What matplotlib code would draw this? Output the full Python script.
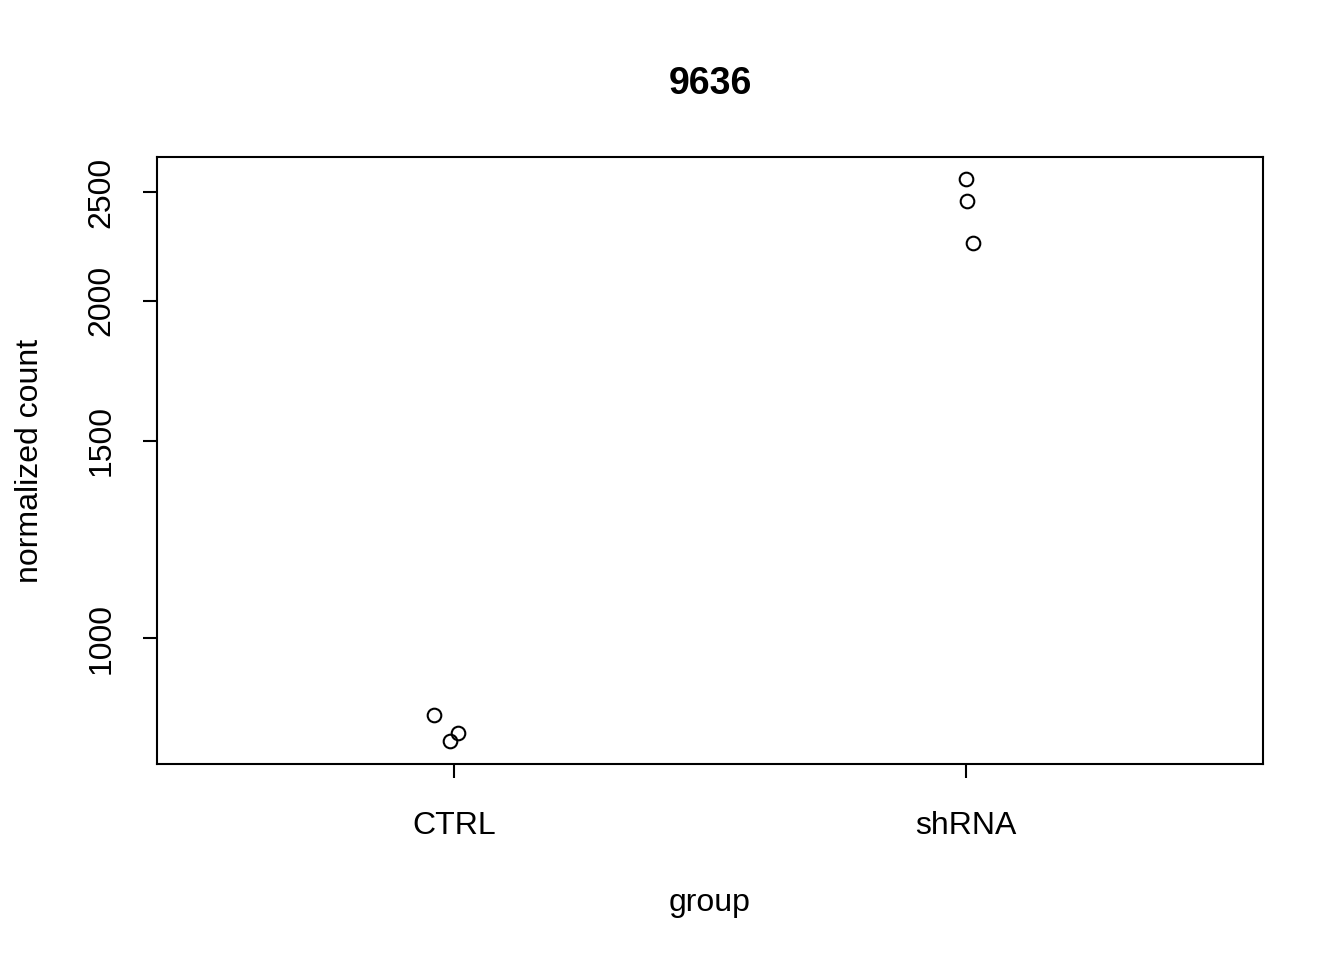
import numpy as np
import matplotlib.pyplot as plt
from matplotlib.ticker import FixedLocator, FixedFormatter, NullLocator

plt.rcParams['font.family'] = ['Liberation Sans', 'DejaVu Sans']

# data
groups = ['CTRL', 'shRNA']
ctrl_x = [0.961, 0.992, 1.008]
ctrl_counts = [854, 809, 823]
shrna_x = [2.000, 2.002, 2.014]
shrna_counts = [2566, 2453, 2251]
yticks = [1000, 1500, 2000, 2500]

fig = plt.figure(figsize=(13.44, 9.6), dpi=100)
ax = fig.add_axes([0.1168, 0.2042, 0.8229, 0.6323])

ax.plot(ctrl_x, ctrl_counts, 'o', mfc='none', mec='black', ms=9.8, mew=1.5)
ax.plot(shrna_x, shrna_counts, 'o', mfc='none', mec='black', ms=9.8, mew=1.5)

ax.set_yscale('log')
allv = ctrl_counts + shrna_counts
lo, hi = np.log(min(allv)), np.log(max(allv))
pad = (hi - lo) * 0.04
ax.set_ylim(np.exp(lo - pad), np.exp(hi + pad))
ax.set_xlim(0.42, 2.58)

ax.yaxis.set_major_locator(FixedLocator(yticks))
ax.yaxis.set_major_formatter(FixedFormatter([str(v) for v in yticks]))
ax.yaxis.set_minor_locator(NullLocator())
ax.set_xticks([1, 2])
ax.set_xticklabels(groups)

ax.tick_params(axis='both', direction='out', length=10, width=1.5, labelsize=23)
ax.tick_params(axis='x', pad=24)
ax.tick_params(axis='y', pad=19)
for lab in ax.get_yticklabels():
    lab.set_rotation(90)
    lab.set_va('center')
for s in ax.spines.values():
    s.set_linewidth(1.5)

ax.set_xlabel('group', fontsize=23, labelpad=34)
ax.set_ylabel('normalized count', fontsize=23, labelpad=30)
ax.set_title('9636', fontsize=27, fontweight='bold', pad=45)

fig.savefig('out.png', dpi=100)
